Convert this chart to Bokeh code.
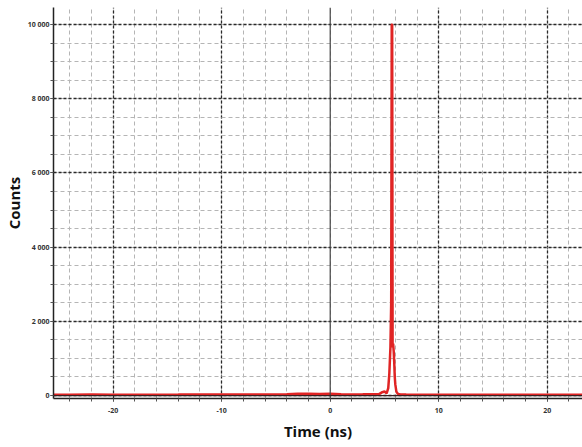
from bokeh.plotting import figure
from bokeh.models import Range1d, FixedTicker, Span, ColumnDataSource
from bokeh.embed import file_html
from bokeh.resources import INLINE

# ---- data ----
time_ns = [-25.5, -24, -22, -20, -18, -16, -14, -12, -10, -8, -6, -4, -3, -2, -1, 0, 1, 2, 3, 4,
           4.5, 4.8, 5.0, 5.2, 5.35, 5.45, 5.55, 5.62, 5.67, 5.71, 5.75, 5.8, 5.85, 5.9, 5.95,
           6.0, 6.1, 6.25, 6.5, 7, 8, 10, 12, 14, 16, 18, 20, 22, 23.25]
counts = [20, 22, 25, 20, 24, 22, 25, 30, 26, 28, 30, 35, 45, 50, 40, 48, 35, 30, 32, 35,
          40, 90, 110, 60, 200, 600, 1300, 2500, 10000, 10000, 1300, 1400, 1200, 900, 500,
          300, 100, 40, 30, 25, 22, 20, 22, 20, 22, 20, 22, 24, 20]

y_ticks = [0, 2000, 4000, 6000, 8000, 10000]
y_tick_labels = ["0", "2 000", "4 000", "6 000", "8 000", "10 000"]
x_ticks = [-20, -10, 0, 10, 20]
x_tick_labels = ["-20", "-10", "0", "10", "20"]

x_minor = [v for v in range(-24, 24, 2)]
y_minor = [v for v in range(0, 10500, 500)]

p = figure(width=582, height=447, output_backend="svg", toolbar_location=None,
           x_range=Range1d(-25.5, 23.25), y_range=Range1d(-80, 10460),
           min_border_left=0, min_border_right=0, min_border_top=7, min_border_bottom=49)
p.outline_line_color = None
p.background_fill_color = "white"
p.border_fill_color = "white"

# axes
p.yaxis.ticker = FixedTicker(ticks=y_ticks, minor_ticks=y_minor)
p.yaxis.major_label_overrides = dict(zip(y_ticks, y_tick_labels))
p.xaxis.ticker = FixedTicker(ticks=x_ticks, minor_ticks=x_minor)
p.xaxis.major_label_overrides = dict(zip(x_ticks, x_tick_labels))

for ax in (p.xaxis[0], p.yaxis[0]):
    ax.axis_line_color = "#222222"
    ax.axis_line_width = 1.5
    ax.major_tick_line_color = "#333333"
    ax.minor_tick_line_color = "#555555"
    ax.major_tick_out = 3
    ax.major_tick_in = 0
    ax.minor_tick_out = 3
    ax.minor_tick_in = 0
    ax.major_label_text_font_size = "7px"
    ax.major_label_text_font = "Open Sans"
    ax.major_label_text_font_style = "bold"
    ax.major_label_text_color = "#333333"
    ax.axis_label_text_font = "Open Sans"
    ax.axis_label_text_font_style = "bold"
    ax.axis_label_text_font_size = "15px"
    ax.axis_label_text_color = "#111111"

p.xaxis.axis_label = "Time (ns)"
p.yaxis.axis_label = "Counts"
p.yaxis.major_label_standoff = 1
p.xaxis.major_label_standoff = 6
p.yaxis.axis_label_standoff = 1
p.xaxis.axis_label_standoff = 5

# grids
p.xgrid.ticker = FixedTicker(ticks=[-20, -10, 10, 20], minor_ticks=x_minor)
p.ygrid.ticker = FixedTicker(ticks=y_ticks, minor_ticks=y_minor)
for g in (p.xgrid[0], p.ygrid[0]):
    g.grid_line_color = "#2a2a2a"
    g.grid_line_width = 1.3
    g.grid_line_dash = "3 2"
    g.minor_grid_line_color = "#b5b5b5"
    g.minor_grid_line_width = 1
    g.minor_grid_line_dash = "4 3"

p.add_layout(Span(location=0, dimension="height", line_color="#444444", line_width=1.2))

src = ColumnDataSource(dict(t=time_ns, c=counts))
p.line("t", "c", source=src, line_color="#e02424", line_width=2.5)
p.add_layout(Span(location=0, dimension="width", line_color="#3a2020", line_width=1.2))

open("out.html", "w").write(file_html(p, INLINE))
